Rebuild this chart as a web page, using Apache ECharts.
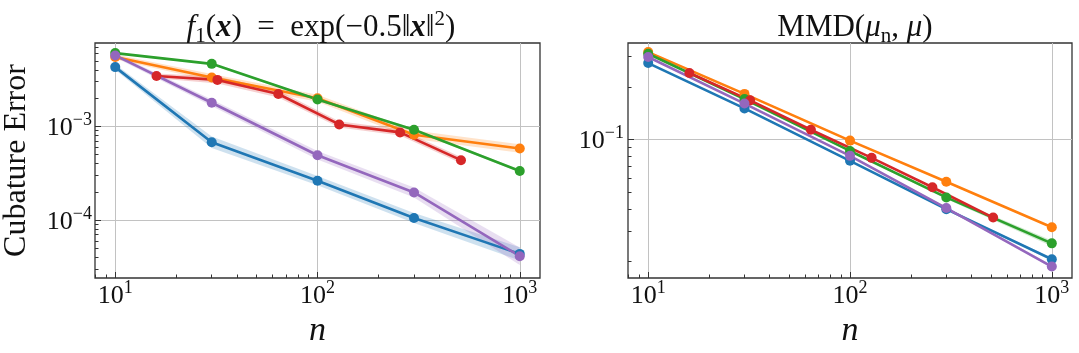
<!DOCTYPE html>
<html><head><meta charset="utf-8">
<script src="https://cdn.jsdelivr.net/npm/echarts@6/dist/echarts.min.js"></script>
<style>html,body{margin:0;padding:0;background:#fff}#c{width:1079px;height:353px}</style>
</head><body><div id="c"></div>
<script>
// ---- data ----
const nMain = [10, 30, 100, 300, 1000];
const nRed = [16, 32, 64, 128, 256, 512];

// Left panel: cubature error for f1
const f1Blue   = [4.30e-3, 6.78e-4, 2.63e-4, 1.05e-4, 4.35e-5];
const f1Orange = [5.52e-3, 3.33e-3, 2.00e-3, 8.15e-4, 5.82e-4];
const f1Green  = [6.07e-3, 4.66e-3, 1.94e-3, 9.20e-4, 3.34e-4];
const f1Red    = [3.46e-3, 3.14e-3, 2.22e-3, 1.05e-3, 8.63e-4, 4.36e-4];
const f1Purple = [5.73e-3, 1.79e-3, 4.92e-4, 1.97e-4, 4.11e-5];
// band half-widths (multiplicative factor)
const f1BlueBand   = [1.07, 1.15, 1.12, 1.13, 1.18];
const f1OrangeBand = [1.06, 1.09, 1.09, 1.11, 1.11];
const f1GreenBand  = [1.02, 1.02, 1.03, 1.03, 1.03];
const f1RedBand    = [1.06, 1.09, 1.09, 1.08, 1.08, 1.08];
const f1PurpleBand = [1.05, 1.08, 1.11, 1.13, 1.24];

// Right panel: MMD
const mmdBlue   = [0.275, 0.151, 0.0756, 0.0399, 0.0206];
const mmdOrange = [0.318, 0.183, 0.0987, 0.0573, 0.0314];
const mmdGreen  = [0.311, 0.171, 0.0861, 0.0466, 0.0254];
const mmdRed    = [0.241, 0.168, 0.114, 0.0786, 0.0533, 0.0357];
const mmdPurple = [0.298, 0.161, 0.0807, 0.0405, 0.0187];
const mmdBlueBand   = [1.01, 1.01, 1.01, 1.01, 1.02];
const mmdOrangeBand = [1.01, 1.01, 1.01, 1.01, 1.01];
const mmdGreenBand  = [1.01, 1.01, 1.01, 1.02, 1.04];
const mmdRedBand    = [1.01, 1.01, 1.01, 1.01, 1.01, 1.01];
const mmdPurpleBand = [1.01, 1.01, 1.01, 1.01, 1.02];

// ticks
const xMajorTicks = [10, 100, 1000];
const xMajorExp = ['1', '2', '3'];
const leftYMajorTicks = [1e-4, 1e-3];
const leftYMajorExp = ['\u22124', '\u22123'];
const rightYMajorTicks = [0.1];
const rightYMajorExp = ['\u22121'];

const titleLeft = '{i|f}{sub|1}{r|(}{bi|x}{r|)\u2002=\u2002exp(\u22120.5\u2016}{bi|x}{r|\u2016}{sup|2}{r|)}';
const titleRight = '{r|MMD(}{i|\u03bc}{sub|n}{r|, }{i|\u03bc}{r|)}';
const yLabel = 'Cubature Error';
const xLabel = 'n';

// ---- styling ----
const FONT = 'Liberation Serif';
const C = {blue:'#1f77b4', orange:'#ff7f0e', green:'#2ca02c', red:'#d62728', purple:'#9467bd'};
const X_MIN = Math.pow(10, 0.9), X_MAX = Math.pow(10, 3.1);
const LY_MIN = Math.pow(10, -4.619), LY_MAX = Math.pow(10, -2.109);
const RY_MIN = Math.pow(10, -1.794), RY_MAX = Math.pow(10, -0.4455);

function minorTicks(min, max) {
  const out = [];
  for (let d = Math.floor(Math.log10(min)); d <= Math.ceil(Math.log10(max)); d++) {
    for (let k = 2; k <= 9; k++) {
      const v = k * Math.pow(10, d);
      if (v > min && v < max) out.push(v);
    }
  }
  return out;
}

const tickRich = {
  b: {fontFamily: FONT, fontSize: 26, lineHeight: 30, color: '#111', fontWeight: 'normal', verticalAlign: 'bottom'},
  s: {fontFamily: FONT, fontSize: 18, lineHeight: 15, color: '#111', fontWeight: 'normal', verticalAlign: 'top'}
};
function fmtFactory(ticks, exps) {
  return function (v) {
    let best = 0, bd = Infinity;
    ticks.forEach((t, i) => { const d = Math.abs(Math.log10(v) - Math.log10(t)); if (d < bd) { bd = d; best = i; } });
    return '{b|10}{s|' + exps[best] + '}';
  };
}

function mainAxis(dim, gridIndex, min, max, majors, exps, margin, name, nameGap) {
  const ax = {
    type: 'log', logBase: 10, gridIndex, min, max,
    position: dim === 'x' ? 'bottom' : 'left',
    axisLine: {show: false},
    axisTick: {show: true, inside: true, length: 6, customValues: majors, lineStyle: {color: '#333', width: 1}},
    axisLabel: {customValues: majors, formatter: fmtFactory(majors, exps), margin, rich: tickRich, color: '#111'},
    splitLine: {show: true, lineStyle: {color: '#c2c2c2', width: 1}},
    minorTick: {show: false}, minorSplitLine: {show: false}
  };
  if (name) {
    ax.name = name;
    ax.nameLocation = 'middle';
    ax.nameGap = nameGap;
    ax.nameTextStyle = dim === 'x'
      ? {fontFamily: FONT, fontSize: 34, fontStyle: 'italic', fontWeight: 'normal', color: '#111'}
      : {fontFamily: FONT, fontSize: 32, fontWeight: 'normal', color: '#111'};
    if (dim === 'y') ax.nameRotate = 90;
  }
  return ax;
}
function minorAxis(dim, gridIndex, min, max) {
  return {
    type: 'log', logBase: 10, gridIndex, min, max,
    position: dim === 'x' ? 'bottom' : 'left',
    axisLine: {show: false},
    axisTick: {show: true, inside: true, length: 3.5, customValues: minorTicks(min, max), lineStyle: {color: '#333', width: 1}},
    axisLabel: {show: false},
    splitLine: {show: false}
  };
}

const series = [];
function band(gridIdx, xs, ys, f, color) {
  const data = xs.map((x, i) => [x, ys[i] / f[i], ys[i] * f[i]]);
  series.push({
    type: 'custom', xAxisIndex: gridIdx, yAxisIndex: gridIdx, silent: true, clip: true, z: 1,
    data, encode: {x: 0, y: [1, 2]},
    renderItem(params, api) {
      if (params.dataIndex !== 0) return null;
      const up = data.map(d => api.coord([d[0], d[2]]));
      const lo = data.map(d => api.coord([d[0], d[1]])).reverse();
      return {type: 'polygon', shape: {points: up.concat(lo)}, style: {fill: color, opacity: 0.22}};
    }
  });
}
function line(gridIdx, name, xs, ys, color) {
  series.push({
    type: 'line', name, xAxisIndex: gridIdx, yAxisIndex: gridIdx, z: 3,
    data: xs.map((x, i) => [x, ys[i]]),
    symbol: 'circle', symbolSize: 10, showSymbol: true,
    lineStyle: {color, width: 2.6}, itemStyle: {color},
    emphasis: {disabled: true}, animation: false
  });
}
const panels = [
  [f1Blue, f1BlueBand, f1Orange, f1OrangeBand, f1Green, f1GreenBand, f1Red, f1RedBand, f1Purple, f1PurpleBand],
  [mmdBlue, mmdBlueBand, mmdOrange, mmdOrangeBand, mmdGreen, mmdGreenBand, mmdRed, mmdRedBand, mmdPurple, mmdPurpleBand]
];
panels.forEach((p, g) => {
  const [b, bb, o, ob, gr, gb, r, rb, pu, pb] = p;
  band(g, nMain, b, bb, C.blue);
  band(g, nMain, o, ob, C.orange);
  band(g, nMain, gr, gb, C.green);
  band(g, nRed, r, rb, C.red);
  band(g, nMain, pu, pb, C.purple);
  line(g, 'blue', nMain, b, C.blue);
  line(g, 'orange', nMain, o, C.orange);
  line(g, 'green', nMain, gr, C.green);
  line(g, 'red', nRed, r, C.red);
  line(g, 'purple', nMain, pu, C.purple);
});

const TS = 31;
const titleRich = {
  r:  {fontFamily: FONT, fontSize: TS, lineHeight: 38, color: '#111', fontWeight: 'normal', fontStyle: 'normal', verticalAlign: 'middle'},
  i:  {fontFamily: FONT, fontSize: TS, lineHeight: 38, color: '#111', fontWeight: 'normal', fontStyle: 'italic', verticalAlign: 'middle'},
  bi: {fontFamily: FONT, fontSize: TS, lineHeight: 38, color: '#111', fontStyle: 'italic', fontWeight: 'bold', verticalAlign: 'middle'},
  sub:{fontFamily: FONT, fontSize: 21, lineHeight: 17, color: '#111', fontWeight: 'normal', fontStyle: 'normal', verticalAlign: 'bottom'},
  sup:{fontFamily: FONT, fontSize: 21, lineHeight: 20, color: '#111', fontWeight: 'normal', fontStyle: 'normal', verticalAlign: 'top'}
};
const titleTextStyle = {fontFamily: FONT, fontSize: TS, fontWeight: 'normal', color: '#111', rich: titleRich};

const option = {
  backgroundColor: '#fff',
  animation: false,
  title: [
    {text: titleLeft, left: 316, top: 4, textAlign: 'center', textStyle: titleTextStyle},
    {text: titleRight, left: 850, top: 4, textAlign: 'center', textStyle: titleTextStyle}
  ],
  grid: [
    {left: 93, top: 43, width: 447, height: 240, show: true, borderColor: '#333', borderWidth: 1.3, backgroundColor: 'transparent'},
    {left: 628, top: 43, width: 444, height: 240, show: true, borderColor: '#333', borderWidth: 1.3, backgroundColor: 'transparent'}
  ],
  xAxis: [
    mainAxis('x', 0, X_MIN, X_MAX, xMajorTicks, xMajorExp, 1, xLabel, 36),
    mainAxis('x', 1, X_MIN, X_MAX, xMajorTicks, xMajorExp, 1, xLabel, 36),
    minorAxis('x', 0, X_MIN, X_MAX),
    minorAxis('x', 1, X_MIN, X_MAX)
  ],
  yAxis: [
    mainAxis('y', 0, LY_MIN, LY_MAX, leftYMajorTicks, leftYMajorExp, 3, yLabel, 62),
    mainAxis('y', 1, RY_MIN, RY_MAX, rightYMajorTicks, rightYMajorExp, 4),
    minorAxis('y', 0, LY_MIN, LY_MAX),
    minorAxis('y', 1, RY_MIN, RY_MAX)
  ],
  series
};
const chart = echarts.init(document.getElementById('c'), null, {renderer: 'canvas'});
chart.setOption(option);
</script></body></html>
